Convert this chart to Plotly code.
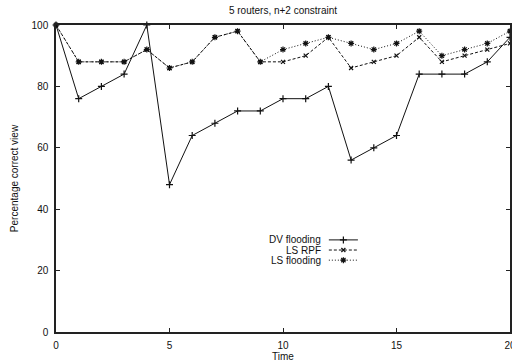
import plotly.graph_objects as go

time = list(range(0, 21))
dv_flooding = [100, 76, 80, 84, 100, 48, 64, 68, 72, 72, 76, 76, 80, 56, 60, 64, 84, 84, 84, 88, 96]
ls_rpf = [100, 88, 88, 88, 92, 86, 88, 96, 98, 88, 88, 90, 96, 86, 88, 90, 96, 88, 90, 92, 94]
ls_flooding = [100, 88, 88, 88, 92, 86, 88, 96, 98, 88, 92, 94, 96, 94, 92, 94, 98, 90, 92, 94, 98]
series_names = ["DV flooding", "LS RPF", "LS flooding"]
x_ticks = [0, 5, 10, 15, 20]
y_ticks = [0, 20, 40, 60, 80, 100]

FONT = "Liberation Sans, Arial, Helvetica, sans-serif"
INK = "#111111"

styles = [
    dict(dash="solid", symbol="cross-thin-open", size=5),
    dict(dash="3px,2px", symbol="x-thin-open", size=4),
    dict(dash="1px,2px", symbol="asterisk-open", size=5),
]
data = [dv_flooding, ls_rpf, ls_flooding]

fig = go.Figure()
for name, ys, st in zip(series_names, data, styles):
    fig.add_trace(go.Scatter(
        x=time, y=ys, name=name, mode="lines+markers",
        line=dict(color=INK, width=1, dash=st["dash"]),
        marker=dict(symbol=st["symbol"], size=st["size"], color=INK,
                    line=dict(color=INK, width=1.2)),
        cliponaxis=False, showlegend=False,
    ))

# custom gnuplot-style key (text left, sample right) on an overlay axis
key_y = [0.30, 0.267, 0.234]
key_x0, key_x1, key_text_x = 0.601, 0.665, 0.588
for name, ky, st in zip(series_names, key_y, styles):
    fig.add_trace(go.Scatter(
        x=[key_x0, key_x1], y=[ky, ky], mode="lines", xaxis="x2", yaxis="y2",
        line=dict(color=INK, width=1, dash=st["dash"]), showlegend=False, hoverinfo="skip",
    ))
    fig.add_trace(go.Scatter(
        x=[(key_x0 + key_x1) / 2], y=[ky], mode="markers", xaxis="x2", yaxis="y2",
        marker=dict(symbol=st["symbol"], size=st["size"], color=INK,
                    line=dict(color=INK, width=1.2)),
        showlegend=False, hoverinfo="skip",
    ))
    fig.add_annotation(x=key_text_x, y=ky, xref="paper", yref="paper", text=name,
                       showarrow=False, xanchor="right", yanchor="middle",
                       font=dict(size=10, color=INK, family=FONT))

axis_common = dict(
    showgrid=False, zeroline=False, showline=True, linecolor="#222222", linewidth=1.5,
    mirror="ticks", ticks="inside", ticklen=4, tickcolor="#222222", tickwidth=1,
    tickfont=dict(size=10, color=INK, family=FONT), ticklabeloverflow="allow",
    automargin=False,
)

fig.update_layout(
    width=512, height=364,
    margin=dict(l=56, r=2, t=25, b=32, autoexpand=False),
    paper_bgcolor="white", plot_bgcolor="white",
    font=dict(family=FONT, size=10, color=INK),
    title=dict(text="5 routers, n+2 constraint", x=0.5, xref="paper",
               y=1 - 10 / 364, yref="container", yanchor="middle",
               font=dict(size=10, color=INK, family=FONT)),
    xaxis=dict(range=[0, 20], tickvals=x_ticks, ticklabelstandoff=3,
               title=dict(text="Time", standoff=3, font=dict(size=10, color=INK, family=FONT)),
               **axis_common),
    yaxis=dict(range=[0, 100], tickvals=y_ticks, ticklabelstandoff=4,
               title=dict(text="Percentage correct view", standoff=11,
                          font=dict(size=10, color=INK, family=FONT)),
               **axis_common),
    xaxis2=dict(range=[0, 1], overlaying="x", visible=False, fixedrange=True),
    yaxis2=dict(range=[0, 1], overlaying="y", visible=False, fixedrange=True),
    showlegend=False,
)

fig.write_html("out.html")
